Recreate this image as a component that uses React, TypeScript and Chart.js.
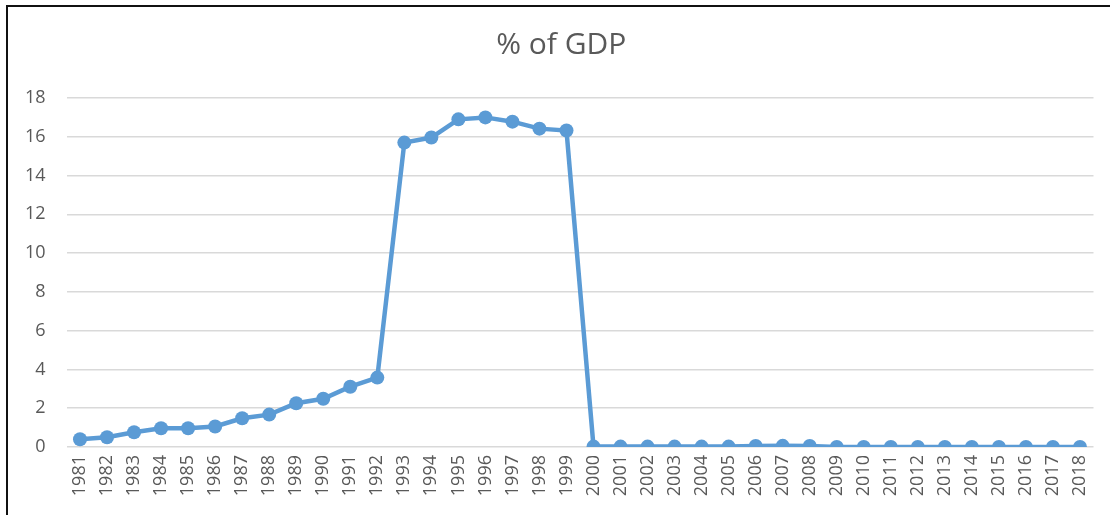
import React, { useEffect, useRef } from "react";
import { Chart, registerables } from "chart.js";

Chart.register(...registerables);

const years: string[] = [
  "1981", "1982", "1983", "1984", "1985", "1986", "1987", "1988", "1989", "1990",
  "1991", "1992", "1993", "1994", "1995", "1996", "1997", "1998", "1999", "2000",
  "2001", "2002", "2003", "2004", "2005", "2006", "2007", "2008", "2009", "2010",
  "2011", "2012", "2013", "2014", "2015", "2016", "2017", "2018",
];

const gdpShare: number[] = [
  0.4, 0.5, 0.76, 0.97, 0.97, 1.06, 1.48, 1.67, 2.26, 2.49,
  3.11, 3.58, 15.7, 15.96, 16.9, 17.0, 16.78, 16.42, 16.32, 0.02,
  0.02, 0.02, 0.02, 0.02, 0.02, 0.05, 0.06, 0.05, 0.0, 0.0,
  0.0, 0.0, 0.0, 0.0, 0.0, 0.0, 0.0, 0.0,
];

const titleText = "% of GDP";
const yMin = 0;
const yMax = 18;
const yStep = 2;

const TEXT = "#595959";
const GRID = "#d9d9d9";
const LINE = "#5b9bd5";
const FONT = "'Open Sans', 'Noto Sans', sans-serif";
const TITLE_SIZE = 30;
// The title is centred on the full framed picture, whose left edge is the frame line.
const TITLE_SHIFT = 14.5;

const shiftedTitle = {
  id: "shiftedTitle",
  afterDraw(chart: any) {
    const tb = chart.titleBlock;
    if (!tb) return;
    const ctx = chart.ctx;
    const pad = tb.options.padding;
    const top = tb.top + (typeof pad === "object" ? pad.top : pad);
    const lineH = TITLE_SIZE * 1.2;
    ctx.save();
    ctx.fillStyle = TEXT;
    ctx.font = `normal ${TITLE_SIZE}px ${FONT}`;
    ctx.textAlign = "center";
    ctx.textBaseline = "middle";
    ctx.fillText(titleText, tb.left + tb.width / 2 + TITLE_SHIFT, top + lineH / 2);
    ctx.restore();
  },
};

export default function App() {
  const ref = useRef<HTMLCanvasElement | null>(null);

  useEffect(() => {
    if (!ref.current) return;
    const chart = new Chart(ref.current, {
      type: "line",
      data: {
        labels: years,
        datasets: [
          {
            label: titleText,
            data: gdpShare,
            borderColor: LINE,
            backgroundColor: LINE,
            borderWidth: 4.5,
            pointRadius: 7,
            pointBackgroundColor: LINE,
            pointBorderColor: LINE,
            pointBorderWidth: 0,
            tension: 0,
          },
        ],
      },
      options: {
        responsive: false,
        animation: false,
        layout: { padding: { left: 0, right: 16.5, top: 0, bottom: 0 } },
        plugins: {
          legend: { display: false },
          tooltip: { enabled: false },
          title: {
            display: true,
            text: titleText,
            color: "rgba(0,0,0,0)",
            font: { family: FONT, size: TITLE_SIZE, weight: "normal", lineHeight: 1.2 },
            padding: { top: 27, bottom: 35 },
          },
        },
        scales: {
          x: {
            offset: true,
            grid: { display: false, drawTicks: false },
            border: { display: false },
            ticks: {
              color: TEXT,
              font: { family: FONT, size: 18 },
              minRotation: 90,
              maxRotation: 90,
              autoSkip: false,
              padding: 8,
            },
            afterFit: (scale: any) => {
              scale.height = 68;
            },
          },
          y: {
            min: yMin,
            max: yMax,
            grid: { color: GRID, lineWidth: 1.5, drawTicks: false },
            border: { display: false },
            ticks: {
              stepSize: yStep,
              color: TEXT,
              font: { family: FONT, size: 18 },
              padding: 21,
            },
            afterFit: (scale: any) => {
              scale.width = 66.5;
            },
          },
        },
      },
      plugins: [shiftedTitle],
    });
    return () => chart.destroy();
  }, []);

  return (
    <div
      style={{
        position: "fixed",
        left: 0,
        top: 0,
        width: 1110,
        height: 515,
        overflow: "hidden",
        background: "#fff",
      }}
    >
      <canvas ref={ref} width={1110} height={515} style={{ display: "block", width: 1110, height: 515 }} />
      <div
        style={{
          position: "absolute",
          left: 6,
          top: 5,
          width: 2000,
          height: 2000,
          borderLeft: "2px solid #111",
          borderTop: "2px solid #111",
          pointerEvents: "none",
        }}
      />
    </div>
  );
}
